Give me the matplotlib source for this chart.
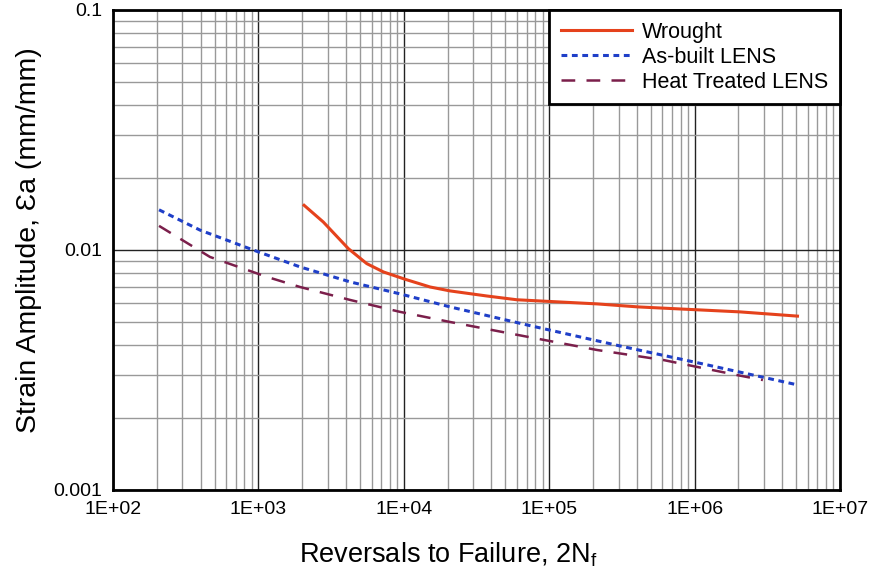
import numpy as np
import matplotlib
matplotlib.use('Agg')
import matplotlib.pyplot as plt
from matplotlib.ticker import FixedLocator, LogLocator, NullFormatter

plt.rcParams['font.family'] = ['Liberation Sans', 'DejaVu Sans']

# Wrought
wr_x = [2060, 2790, 4150, 5560, 7230, 10190, 15140, 20800, 37150, 60000,
        213000, 408000, 2050000, 5100000]
wr_y = [0.01535, 0.01308, 0.01013, 0.00877, 0.0081, 0.00755, 0.00701, 0.00675, 0.00643, 0.0062,
        0.00596, 0.00579, 0.00552, 0.0053]

# As-built LENS
ab_x = [207, 396, 918, 1930, 4270, 9420, 20800, 70300, 307000, 1140000, 5100000]
ab_y = [0.0147, 0.0121, 0.0100, 0.0085, 0.00736, 0.00656, 0.00579, 0.00487, 0.00398, 0.00335, 0.00274]

# Heat Treated LENS
ht_x = [207, 464, 1146, 1930, 4270, 9420, 20800, 60100, 213000, 607000, 1960000, 2950000]
ht_y = [0.0126, 0.00935, 0.00772, 0.00701, 0.00619, 0.00552, 0.00501, 0.00443, 0.00383, 0.00348, 0.00301, 0.00287]

x_ticks = [1e2, 1e3, 1e4, 1e5, 1e6, 1e7]
x_labels = ['1E+02', '1E+03', '1E+04', '1E+05', '1E+06', '1E+07']
y_ticks = [0.001, 0.01, 0.1]
y_labels = ['0.001', '0.01', '0.1']

fig = plt.figure(figsize=(8.7, 5.71), dpi=100)
ax = fig.add_axes([0.130, 0.142, 0.8355, 0.8405])

ax.set_xscale('log')
ax.set_yscale('log')
ax.set_xlim(1e2, 1e7)
ax.set_ylim(0.001, 0.1)

ax.plot(wr_x, wr_y, color='#E5421C', lw=2.2, label='Wrought')
ax.plot(ab_x, ab_y, color='#1F3FC8', lw=2.2, dashes=(1.9, 1.5), label='As-built LENS')
ax.plot(ht_x, ht_y, color='#7B1F4B', lw=1.8, dashes=(5.5, 4.5), label='Heat Treated LENS')

ax.xaxis.set_major_locator(FixedLocator(x_ticks))
ax.set_xticklabels(x_labels)
ax.yaxis.set_major_locator(FixedLocator(y_ticks))
ax.set_yticklabels(y_labels)
ax.xaxis.set_minor_locator(LogLocator(base=10, subs=np.arange(2, 10)))
ax.yaxis.set_minor_locator(LogLocator(base=10, subs=np.arange(2, 10)))
ax.xaxis.set_minor_formatter(NullFormatter())
ax.yaxis.set_minor_formatter(NullFormatter())

ax.grid(which='major', color='#222222', lw=1.0)
ax.grid(which='minor', color='#999999', lw=1.0)
ax.set_axisbelow(True)
ax.tick_params(which='both', length=0, labelsize=14, pad=8)

for s in ax.spines.values():
    s.set_linewidth(2)
    s.set_color('black')

ax.set_xlabel('Reversals to Failure, 2N$_\\mathregular{f}$', fontsize=19.5)
ax.xaxis.set_label_coords(0.461, -0.105)
ax.set_ylabel('Strain Amplitude, Ɛa (mm/mm)', fontsize=20.5)
ax.yaxis.set_label_coords(-0.098, 0.52)

leg = ax.legend(loc='upper right', borderaxespad=0, fancybox=False, fontsize=15.5,
                handlelength=3.3, handletextpad=0.45, borderpad=0.55, labelspacing=0.18)
leg.get_frame().set_edgecolor('black')
leg.get_frame().set_linewidth(2)
leg.get_frame().set_alpha(1)

plt.savefig('out.png', dpi=100)
